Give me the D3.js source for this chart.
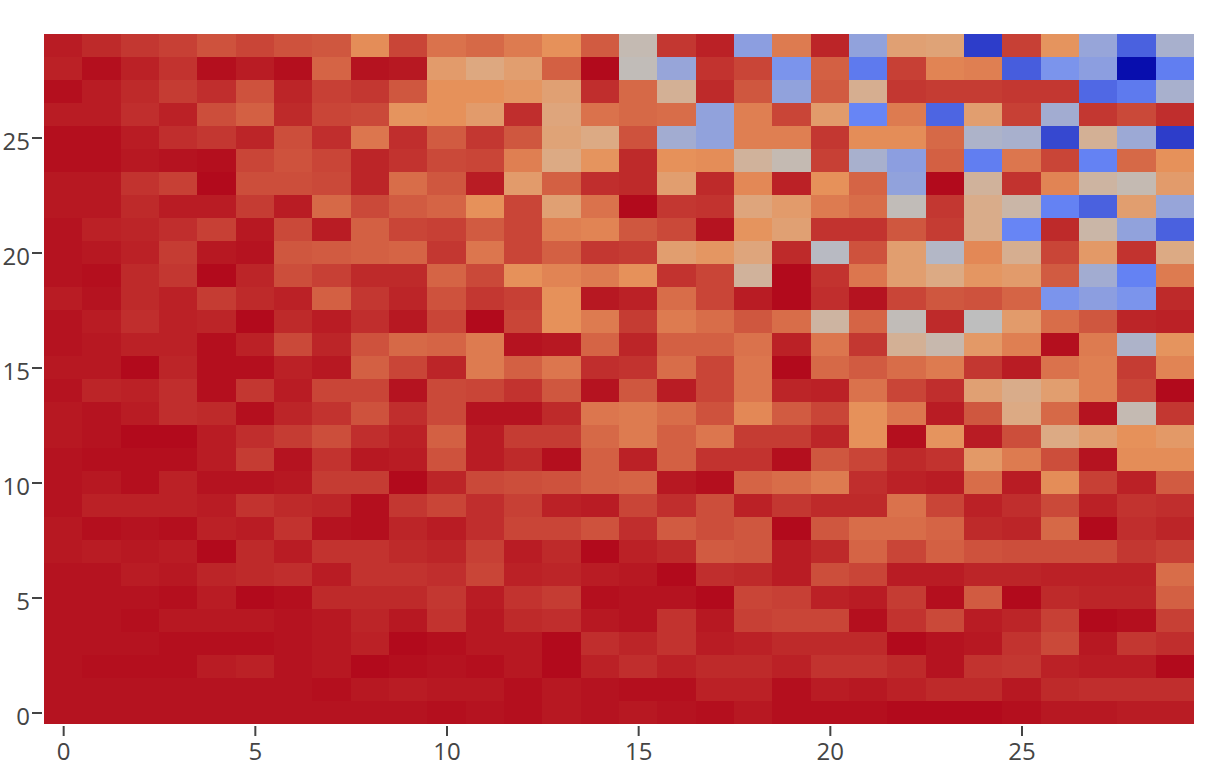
<!DOCTYPE html>
<html>
<head>
<meta charset="utf-8">
<script src="https://cdn.jsdelivr.net/npm/d3@7"></script>
<style>
  html, body { margin: 0; padding: 0; background: #fff; }
  svg { display: block; }
</style>
</head>
<body>
<div id="chart"></div>
<script>
// cell values, row0 is the bottom row
const row0 = [98,98,98,98,98,98,98,98,98,98,99,98,99,97,98,97,98,99,97,99,99,99,100,100,100,99,97,97,96,96];
const row1 = [98,98,98,98,98,98,98,99,97,96,97,97,99,97,98,99,99,95,95,99,96,97,95,93,93,97,93,92,92,92];
const row2 = [98,99,99,99,96,95,98,97,100,99,98,99,97,100,95,92,95,93,93,95,91,91,93,98,91,90,95,96,96,100];
const row3 = [98,98,98,99,99,99,98,97,95,100,99,97,97,100,92,94,91,96,95,93,93,93,100,98,97,91,86,97,90,92];
const row4 = [98,98,99,97,97,97,98,97,94,97,91,97,93,92,97,98,91,97,88,87,87,99,91,86,96,94,88,100,99,88];
const row5 = [98,98,98,99,96,100,99,93,93,93,90,96,91,89,99,98,98,100,87,88,95,96,89,99,82,100,93,94,94,81];
const row6 = [98,98,96,97,94,93,92,96,91,91,92,87,95,94,96,97,100,92,93,96,85,87,96,96,94,94,95,95,95,78];
const row7 = [97,96,97,96,100,93,96,91,91,93,94,88,96,93,100,95,93,82,83,96,93,80,87,81,84,85,85,85,90,88];
const row8 = [97,99,98,99,95,96,91,98,99,94,96,92,87,87,84,92,82,85,83,100,83,78,78,80,93,94,79,100,92,94];
const row9 = [98,95,95,95,96,91,93,94,99,90,87,92,88,95,96,87,92,85,95,90,93,93,77,87,95,92,86,95,91,92];
const row10 = [98,97,99,95,98,98,97,89,89,100,94,86,85,84,81,80,97,99,80,78,75,92,95,96,78,96,71,88,95,82];
const row11 = [98,99,99,99,96,89,98,91,97,96,84,96,93,99,81,95,81,91,91,99,83,87,93,91,67,75,85,98,71,71];
const row12 = [97,98,100,100,96,92,89,85,92,95,81,96,89,89,79,75,81,76,89,89,94,70,99,69,96,85,60,65,70,67];
const row13 = [97,98,96,92,93,99,94,91,84,92,86,98,98,93,76,75,78,84,72,82,87,70,76,96,83,60,79,98,52,90];
const row14 = [98,94,95,92,99,90,96,87,87,98,86,87,91,83,98,83,96,87,76,94,95,77,87,92,64,59,65,74,87,100];
const row15 = [97,97,100,94,99,99,95,97,81,87,94,75,81,76,92,91,78,87,76,100,79,82,78,75,90,96,77,74,89,73];
const row16 = [98,97,95,95,99,95,86,94,84,79,80,75,98,97,80,94,81,81,77,95,76,90,57,53,67,74,99,75,47,69];
const row17 = [98,96,92,95,94,100,93,96,92,97,87,100,87,70,75,89,75,78,83,78,55,80,51,93,50,66,78,83,94,95];
const row18 = [96,98,93,95,89,93,95,81,90,94,84,90,88,70,97,95,78,87,96,100,92,98,87,83,84,80,38,41,38,93];
const row19 = [98,99,93,90,100,94,85,88,93,93,80,86,70,73,75,70,91,87,56,100,91,76,65,60,68,66,82,45,33,75];
const row20 = [98,97,95,89,97,98,83,82,81,80,90,76,87,81,90,89,65,68,62,93,49,84,65,48,72,58,87,67,91,60];
const row21 = [98,95,94,92,88,97,86,96,81,87,88,82,87,74,73,83,86,98,69,64,91,91,83,89,59,34,93,54,42,24];
const row22 = [97,97,93,96,96,89,96,79,86,82,80,70,87,64,77,100,90,91,62,66,75,78,51,90,59,54,33,24,65,43];
const row23 = [97,97,91,88,100,85,85,86,94,78,83,96,66,81,92,93,65,93,72,95,70,80,42,100,56,91,73,55,52,66];
const row24 = [99,99,97,98,99,87,84,87,94,91,86,87,74,60,69,93,70,71,56,52,88,46,41,81,32,76,87,33,79,70];
const row25 = [99,99,96,92,90,94,85,92,76,92,82,90,83,63,60,84,45,42,74,74,90,71,71,79,47,46,17,57,44,14];
const row26 = [96,96,92,95,85,81,93,87,86,69,70,66,92,62,77,79,78,42,74,87,66,34,75,25,65,88,45,90,86,92];
const row27 = [99,96,93,89,92,84,94,88,90,83,70,70,68,64,92,79,57,93,83,42,82,58,90,89,89,90,90,26,31,46];
const row28 = [95,99,95,91,99,96,99,80,98,97,66,61,65,81,100,51,43,91,87,38,81,31,88,73,74,23,38,41,1,32];
const row29 = [96,93,90,88,84,87,84,83,71,87,77,79,75,70,82,52,90,95,41,75,94,42,64,63,14,88,69,43,24,46];

const rows = [row0, row1, row2, row3, row4, row5, row6, row7, row8, row9,
  row10, row11, row12, row13, row14, row15, row16, row17, row18, row19,
  row20, row21, row22, row23, row24, row25, row26, row27, row28, row29];

const xTicks = [0, 5, 10, 15, 20, 25];
const yTicks = [0, 5, 10, 15, 20, 25];

const width = 1224;
const height = 764;
const plot = {left: 44, right: 1194, top: 34, bottom: 724};

const x = d3.scaleLinear().domain([-0.5, 29.5]).range([plot.left, plot.right]);
const y = d3.scaleLinear().domain([-0.5, 29.5]).range([plot.bottom, plot.top]);

// same stops as plotly's RdBu
const color = d3.scaleLinear()
  .domain([0, 35, 50, 60, 70, 100])
  .range(["rgb(5,10,172)", "rgb(106,137,247)", "rgb(190,190,190)",
          "rgb(220,170,132)", "rgb(230,145,90)", "rgb(178,10,28)"]);

const svg = d3.select("#chart").append("svg")
  .attr("width", width)
  .attr("height", height);

const cells = rows.flatMap((row, j) => row.map((v, i) => ({i: i, j: j, v: v})));

svg.append("g")
  .attr("shape-rendering", "crispEdges")
  .selectAll("rect")
  .data(cells)
  .join("rect")
  .attr("x", d => x(d.i - 0.5))
  .attr("y", d => y(d.j + 0.5))
  .attr("width", d => x(d.i + 0.5) - x(d.i - 0.5))
  .attr("height", d => y(d.j - 0.5) - y(d.j + 0.5))
  .attr("fill", d => color(d.v));

const xAxis = svg.append("g")
  .attr("transform", `translate(0,${plot.bottom + 2})`)
  .call(d3.axisBottom(x).tickValues(xTicks).tickFormat(d3.format("d")).tickSize(10).tickSizeOuter(0).tickPadding(7));

const yAxis = svg.append("g")
  .attr("transform", `translate(${plot.left - 2},0)`)
  .call(d3.axisLeft(y).tickValues(yTicks).tickFormat(d3.format("d")).tickSize(10).tickSizeOuter(0).tickPadding(2));

[xAxis, yAxis].forEach(axis => {
  axis.select(".domain").remove();
  axis.selectAll(".tick line").attr("stroke", "#444").attr("stroke-width", 2);
  axis.selectAll(".tick text")
    .attr("fill", "#444")
    .attr("font-family", "'Open Sans', sans-serif")
    .attr("font-size", 24);
});
yAxis.selectAll(".tick text").attr("dy", "0.5em");
</script>
</body>
</html>
